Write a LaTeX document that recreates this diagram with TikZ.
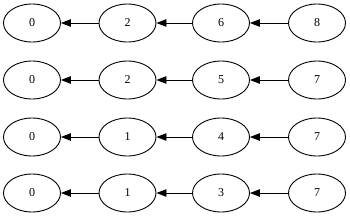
\documentclass[tikz,border=0pt]{standalone}
\usepackage{fontspec}
\setmainfont{Liberation Serif}
\usetikzlibrary{arrows.meta,shapes.geometric}

\tikzset{
  num/.style={draw, ellipse, line width=0.9pt, minimum width=57pt, minimum height=38pt,
    inner sep=0pt, font=\fontsize{12}{14}\selectfont},
  link/.style={line width=0.9pt, -{Triangle[length=10pt,width=7.5pt]}}
}

\begin{document}
\begin{tikzpicture}[x=1pt,y=-1pt]

    \useasboundingbox (0,0) rectangle (350,217);

    % one chain per row
    \foreach \r/\a/\b/\c/\d/\y in {1/0/2/6/8/23, 2/0/2/5/7/80, 3/0/1/4/7/137, 4/0/1/3/7/193} {
        \node[num] (n\r-a) at (32,\y) {\a};
        \node[num] (n\r-b) at (127.5,\y) {\b};
        \node[num] (n\r-c) at (221,\y) {\c};
        \node[num] (n\r-d) at (317,\y) {\d};

        \draw[link] (n\r-b) -- (n\r-a);
        \draw[link] (n\r-c) -- (n\r-b);
        \draw[link] (n\r-d) -- (n\r-c);
    }

\end{tikzpicture}
\end{document}
